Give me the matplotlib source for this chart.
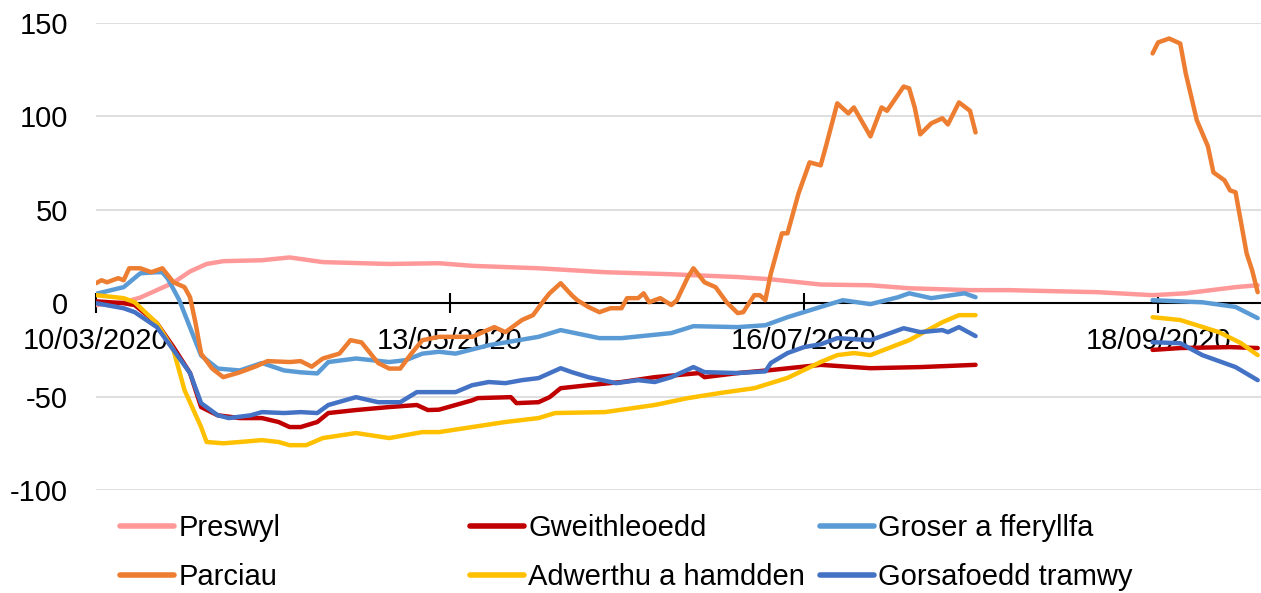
import numpy as np
import pandas as pd
import matplotlib
matplotlib.use("Agg")
import matplotlib.pyplot as plt
import matplotlib.dates as mdates

plt.rcParams['font.family'] = ['Liberation Sans', 'DejaVu Sans']

START = "2020-03-10"
NA = np.nan

# Day offsets from 10/03/2020 and values (% change from baseline)
preswyl_days = [0, 5, 8, 11, 14, 17, 20, 23, 30, 35, 41, 53, 62, 68, 80, 92, 104, 116, 122, 131,
                140, 147, 158, 165, 172, 181, 191, 197, 206, 210]
preswyl_vals = [-1, 0.5, 3, 7, 11, 17, 21, 22.5, 23, 24.5, 22, 21, 21.4, 20, 18.7, 16.6, 15.5, 14, 12.8, 10,
                9.6, 8, 7, 7, 6.5, 5.9, 4.3, 5.3, 8.6, 9.6]

gweith_days = [0, 5, 7, 11, 14, 17, 19, 22, 26, 30, 33, 35, 37, 40, 42, 47, 53, 58, 60, 62, 65, 68, 69,
               75, 76, 80, 82, 84, 89, 95, 101, 109, 110, 116, 122, 131, 140, 149, 159,
               175, 191, 196, 205, 210]
gweith_vals = [1, 0, -1, -10.7, -23.5, -37.4, -55.6, -60, -61.5, -61.5, -63.6, -66.3, -66.3, -63.6, -58.8,
               -57.2, -55.6, -54.5, -57.2, -57, -54.5, -52, -50.8, -50.3, -53.5, -53, -50.3, -45.5, -43.9,
               -42.2, -39.6, -37.4, -39.6, -37.4, -35.8, -33, -34.8, -34.2, -33,
               NA, -25, -24, -23.5, -24]

groser_days = [0, 5, 8, 11, 12, 13, 15, 17, 19, 22, 26, 30, 34, 37, 40, 42, 47, 53, 56, 59, 62, 65, 71,
               80, 84, 91, 95, 104, 108, 116, 121, 125, 131, 135, 140, 145, 147, 151, 157, 159,
               175, 191, 200, 206, 210]
groser_vals = [5, 8.6, 16, 16.6, 16.5, 13, 2, -13, -28, -35, -36, -32, -36, -37, -37.6, -31.5, -29.6,
               -31.5, -30.5, -27, -26, -27, -22.5, -18, -14.4, -18.7, -18.7, -16, -12.3, -12.8, -11.8,
               -7.5, -2, 1.6, -0.5, 3.2, 5.3, 2.7, 5.3, 3.2,
               NA, 1.6, 0.5, -2, -8]

parciau_days = [0, 1, 2, 4, 5, 6, 8, 10, 12, 14, 16, 17, 18, 19, 21, 23, 26, 29, 31, 35, 37, 39, 41, 44,
                46, 48, 51, 53, 55, 57, 59, 62, 68, 72, 74, 77, 79, 81, 82, 84, 86, 87, 89, 91, 93, 95,
                96, 98, 99, 100, 102, 104, 105, 107, 108, 110, 112, 114, 116, 117, 119, 120, 121, 122,
                124, 125, 127, 129, 131, 132, 134, 136, 137, 140, 142, 143, 146, 147, 148, 149, 151,
                153, 154, 156, 158, 159,
                175, 191, 192, 194, 196, 197, 199, 201, 202, 204, 205, 206, 208, 209, 210]
parciau_vals = [10.7, 12.3, 11.2, 13.4, 12.3, 18.7, 18.7, 16.6, 18.7, 11.2, 8.6, 3.2, -10.7, -27, -35,
                -39.6, -37, -33.7, -31, -31.5, -31, -34, -29.6, -27, -19.8, -21, -32, -35, -35, -27,
                -19.8, -18, -18, -12.8, -15.5, -9, -6.4, 1.6, 5.3, 10.7, 4.3, 1.6, -2, -4.8, -2.7,
                -2.7, 2.7, 2.7, 5.3, 0.5, 2.7, -1, 1.6, 14, 18.7, 11.2, 8.6, 0.5, -5.3, -4.8, 4.3,
                4.3, 1.6, 16, 37.4, 37.4, 58.8, 75.4, 73.8, 84.5, 107, 101.6, 104.8, 89.3, 104.8,
                103, 116, 115, 104.8, 90.4, 96.3, 99, 95.7, 107.5, 103, 91.4,
                NA, 133.7, 139.6, 141.7, 139, 123, 97.9, 84, 70, 65.8, 60.4, 59.4, 26.7, 17.6, 5.9]

adwerthu_days = [0, 5, 7, 11, 14, 16, 19, 20, 23, 26, 30, 33, 35, 38, 41, 47, 53, 59, 62, 68, 74, 80,
                 83, 92, 101, 107, 113, 119, 125, 131, 134, 137, 140, 147, 153, 156, 159,
                 175, 191, 196, 203, 207, 210]
adwerthu_vals = [4.3, 2.7, 0.5, -10.7, -25, -46.5, -66.3, -74.3, -75, -74.3, -73.3, -74.3, -76, -76,
                 -72.2, -69.5, -72.2, -69, -69, -66.3, -63.6, -61.5, -58.8, -58.3, -54.5, -50.8, -48,
                 -45.5, -40, -31.5, -27.8, -26.7, -27.8, -19.8, -10.2, -6.4, -6.4,
                 NA, -7.5, -9, -15.5, -21.4, -27.8]

gorsaf_days = [0, 5, 7, 11, 14, 17, 19, 22, 24, 28, 30, 34, 37, 40, 42, 47, 51, 55, 58, 65, 68, 71, 74,
               77, 80, 84, 86, 89, 94, 98, 101, 104, 108, 110, 116, 121, 122, 125, 128, 131, 134, 140,
               146, 149, 153, 154, 156, 159,
               175, 191, 196, 200, 206, 210]
gorsaf_vals = [0, -2.7, -4.8, -12.8, -25, -37.4, -53.5, -60, -61.5, -60, -58.3, -58.8, -58.3, -58.8,
               -54.5, -50.3, -53, -53, -47.6, -47.6, -43.9, -42.2, -42.8, -41.2, -40.1, -34.8, -36.9,
               -39.6, -42.8, -41.2, -42.2, -39.6, -34.2, -36.9, -37.4, -36.5, -32, -26.7, -23.5, -22,
               -18.7, -19.8, -13.4, -15.5, -14.4, -15.5, -12.8, -17.6,
               NA, -20.9, -21.4, -27.8, -34.2, -41.2]

series_names = ["Preswyl", "Gweithleoedd", "Groser a fferyllfa", "Parciau",
                "Adwerthu a hamdden", "Gorsafoedd tramwy"]
series_colors = ["#FF9999", "#C00000", "#5B9BD5", "#ED7D31", "#FFC000", "#4472C4"]
series_data = [(preswyl_days, preswyl_vals), (gweith_days, gweith_vals), (groser_days, groser_vals),
               (parciau_days, parciau_vals), (adwerthu_days, adwerthu_vals), (gorsaf_days, gorsaf_vals)]

tick_labels = ["10/03/2020", "13/05/2020", "16/07/2020", "18/09/2020"]
y_ticks = [-100, -50, 0, 50, 100, 150]

W, H = 1261, 593
fig = plt.figure(figsize=(W / 100, H / 100), dpi=100)
ax = fig.add_axes([96 / W, 103 / H, 1 - 96 / W, (490 - 23) / H])

start = pd.Timestamp(START)
handles = []
for name, color, (d, v) in zip(series_names, series_colors, series_data):
    x = start + pd.to_timedelta(d, unit="D")
    ln, = ax.plot(x, np.array(v, dtype=float), color=color, lw=3.2, solid_capstyle="round",
                  solid_joinstyle="round", label=name, zorder=3)
    handles.append(ln)

ax.set_ylim(-100, 150)
ax.set_xlim(start, start + pd.Timedelta(days=210.6))
ax.set_yticks(y_ticks)
ax.set_yticklabels([str(t) for t in y_ticks])
for t in y_ticks:
    if t != 0:
        ax.axhline(t, color="#D9D9D9", lw=1.2, zorder=1)

xt = [pd.to_datetime(s, format="%d/%m/%Y") for s in tick_labels]
ax.set_xticks(xt)
ax.xaxis.set_major_formatter(mdates.DateFormatter("%d/%m/%Y"))

for s in ["top", "right", "left"]:
    ax.spines[s].set_visible(False)
ax.spines["bottom"].set_position(("data", 0))
ax.spines["bottom"].set_linewidth(1.5)
ax.spines["bottom"].set_zorder(2)
ax.tick_params(axis="x", direction="inout", length=14, width=1.5, labelsize=21, pad=10, colors="black")
ax.tick_params(axis="y", length=0, labelsize=21, pad=20)
for lbl in ax.get_xticklabels():
    lbl.set_zorder(5)

leg_kw = dict(frameon=False, fontsize=21, handlelength=1.85, handletextpad=0.15,
              labelspacing=0.72, borderpad=0, borderaxespad=0, loc="upper left")
cols = [(0, 3), (1, 4), (2, 5)]
col_x = [120, 470, 820]
for (i, j), cx in zip(cols, col_x):
    lg = fig.legend([handles[i], handles[j]], [series_names[i], series_names[j]],
                    bbox_to_anchor=(cx / W, (H - 514) / H), bbox_transform=fig.transFigure, **leg_kw)
    for h in lg.legend_handles:
        h.set_linewidth(4)

fig.savefig("out.png", dpi=100)
